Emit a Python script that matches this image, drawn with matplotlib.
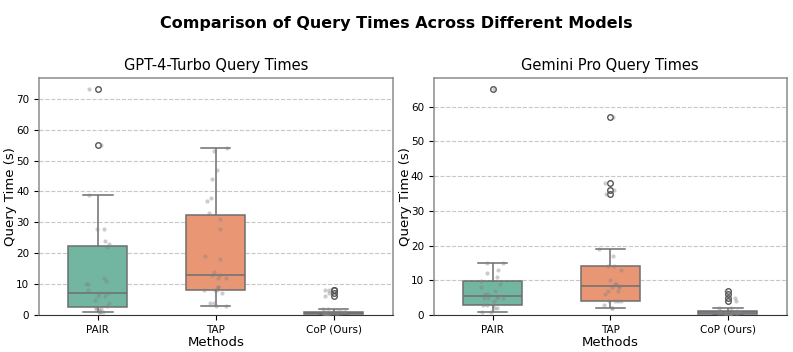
import numpy as np
import pandas as pd
import seaborn as sns
import matplotlib
matplotlib.use('Agg')
import matplotlib.pyplot as plt

methods = ['PAIR', 'TAP', 'CoP (Ours)']

# query times (s)
gpt_pair = [1, 1, 1, 1.5, 2, 2, 2.5, 3, 4, 5, 6, 6, 7, 7, 8, 10, 10, 11, 12,
            22, 23, 24, 28, 28, 39, 55, 73]
gpt_tap = [3, 3, 4, 4, 7, 8, 8, 8, 9, 9, 12, 12, 13, 13, 14, 18, 19, 28, 31,
           33, 37, 38, 44, 47, 53, 54]
gpt_cop = [0, 0, 0, 0.05, 0.1, 0.1, 0.1, 0.2, 0.3, 0.4, 0.5, 0.5, 0.6, 0.7,
           0.8, 0.9, 1, 1, 1, 1, 1.1, 1.2, 2, 2, 6, 7, 8, 8]

gem_pair = [1, 1, 2, 2, 3, 3, 3, 4, 5, 5, 5, 5, 5.5, 6, 6, 7, 8, 9, 9.8, 11,
            12, 13, 15, 15, 65]
gem_tap = [2, 2, 3, 4, 4, 4, 4, 6, 7, 7, 8, 8, 8.5, 9, 9, 10, 13, 14, 14, 17,
           19, 35, 36, 38, 57]
gem_cop = [0, 0, 0, 0.05, 0.1, 0.1, 0.1, 0.2, 0.3, 0.4, 0.5, 0.5, 0.6, 0.7,
           0.8, 0.9, 1, 1, 1, 1, 1.1, 1.2, 2, 2, 4, 5, 6, 7]

models = {
    'GPT-4-Turbo': [gpt_pair, gpt_tap, gpt_cop],
    'Gemini Pro': [gem_pair, gem_tap, gem_cop],
}


def to_frame(series):
    rows = []
    for m, vals in zip(methods, series):
        for v in vals:
            rows.append((m, v))
    return pd.DataFrame(rows, columns=['Method', 'Time'])


np.random.seed(0)
fig = plt.figure(figsize=(7.93, 3.52), dpi=100)
axes = [fig.add_axes([0.049, 0.105, 0.446, 0.673]),
        fig.add_axes([0.547, 0.105, 0.445, 0.673])]

for ax, (name, series) in zip(axes, models.items()):
    df = to_frame(series)
    sns.boxplot(data=df, x='Method', y='Time', hue='Method', palette='Set2',
                width=0.5, legend=False, ax=ax, linewidth=1.1,
                linecolor='#6e6e6e',
                flierprops=dict(markersize=4, markeredgecolor='#555555'))
    sns.stripplot(data=df, x='Method', y='Time', color='gray', alpha=0.4,
                  size=3, jitter=True, ax=ax)
    ax.set_ylim(bottom=0)
    ax.set_title(f'{name} Query Times', fontsize=10.5)
    ax.set_xlabel('Methods', fontsize=9.5, labelpad=1)
    ax.set_ylabel('Query Time (s)', fontsize=9.5)
    ax.yaxis.set_label_coords(-0.063, 0.5)
    ax.tick_params(labelsize=7.5)
    ax.grid(axis='y', linestyle='--', alpha=0.7)
    ax.set_axisbelow(True)
    for side in ['top', 'left', 'right']:
        ax.spines[side].set_color('#8c8c8c')
        ax.spines[side].set_linewidth(1.1)
    ax.spines['bottom'].set_color('#333333')

fig.suptitle('Comparison of Query Times Across Different Models',
             fontsize=11.5, fontweight='bold', y=0.955)
fig.savefig('out.png', dpi=100)
